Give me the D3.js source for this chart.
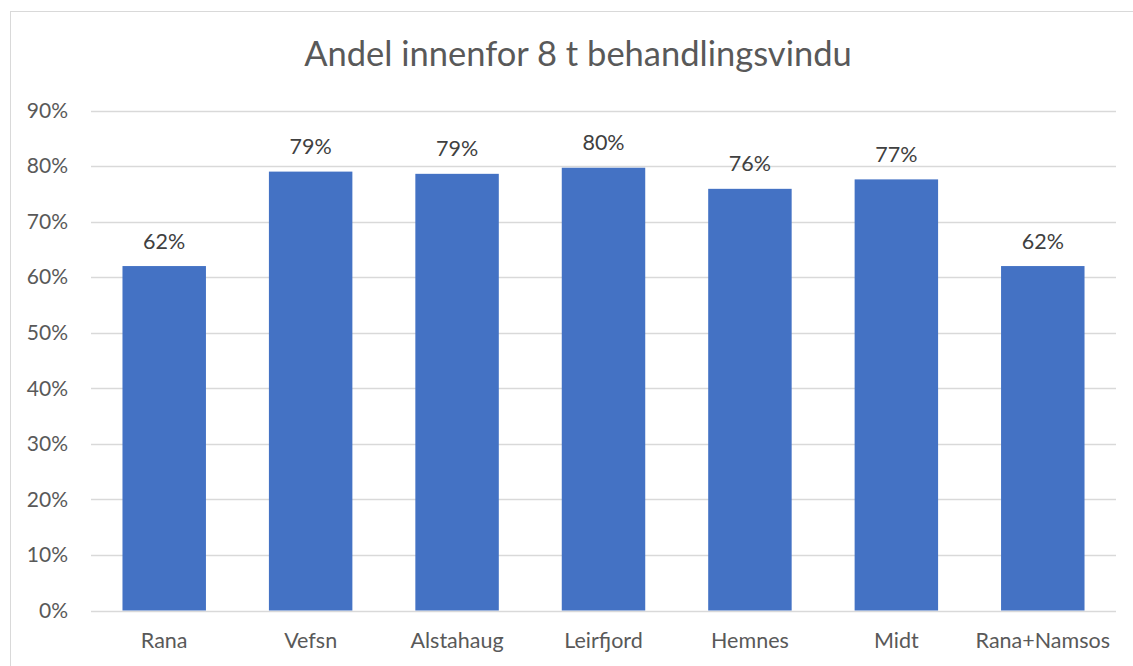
<!DOCTYPE html>
<html><head><meta charset="utf-8">
<script src="https://cdn.jsdelivr.net/npm/d3@7"></script>
<style>body{margin:0;background:#fff;}svg{display:block;font-family:Lato,"Open Sans",sans-serif;}</style>
</head><body>
<svg id="c" width="1133" height="666"></svg>
<script>
const categories = ["Rana","Vefsn","Alstahaug","Leirfjord","Hemnes","Midt","Rana+Namsos"];
const values = [0.620, 0.790, 0.786, 0.797, 0.759, 0.776, 0.620];
const labels = ["62%","79%","79%","80%","76%","77%","62%"];
const yTicks = [0,0.1,0.2,0.3,0.4,0.5,0.6,0.7,0.8,0.9];
const title = "Andel innenfor 8 t behandlingsvindu";

(function(){
const svg = d3.select("#c");
svg.append("rect").attr("x",10.5).attr("y",11.5).attr("width",1140).attr("height",700)
  .attr("fill","#fff").attr("stroke","#d9d9d9").attr("stroke-width",1);

const pl=91, pr=1116, pt=110.5, pb=610.5;
const x = d3.scaleBand().domain(categories).range([pl,pr]).paddingInner(0.43).paddingOuter(0.215);
const y = d3.scaleLinear().domain([0,0.9]).range([pb,pt]);

svg.append("g").selectAll("line").data(yTicks).join("line")
  .attr("x1",pl).attr("x2",pr)
  .attr("y1",d=>Math.round(y(d))+0.5).attr("y2",d=>Math.round(y(d))+0.5)
  .attr("stroke","#d9d9d9").attr("stroke-width",1.5);

const yAxis = d3.axisLeft(y).tickValues(yTicks).tickFormat(d3.format(".0%")).tickSize(0).tickPadding(23);
const ga = svg.append("g").attr("transform",`translate(${pl},0)`).call(yAxis);
ga.select(".domain").remove();
ga.selectAll("text").attr("fill","#595959").attr("font-size",21).attr("font-family","Lato");

svg.append("g").selectAll("rect").data(values).join("rect")
  .attr("x",(d,i)=>x(categories[i])).attr("width",x.bandwidth())
  .attr("y",d=>y(d)).attr("height",d=>y(0)-y(d)).attr("fill","#4472c4");

svg.append("g").selectAll("text").data(values).join("text")
  .attr("x",(d,i)=>x(categories[i])+x.bandwidth()/2).attr("y",d=>y(d)-17.5)
  .attr("text-anchor","middle").attr("fill","#404040").attr("font-size",21.5).text((d,i)=>labels[i]);

const xAxis = d3.axisBottom(x).tickSize(0).tickPadding(22);
const gx = svg.append("g").attr("transform",`translate(0,${pb})`).call(xAxis);
gx.select(".domain").remove();
gx.selectAll("text").attr("fill","#595959").attr("font-size",21.5).attr("font-family","Lato");

svg.append("text").attr("x",578).attr("y",66).attr("text-anchor","middle")
  .attr("fill","#595959").attr("font-size",34.5).text(title);
})();
</script>
</body></html>
